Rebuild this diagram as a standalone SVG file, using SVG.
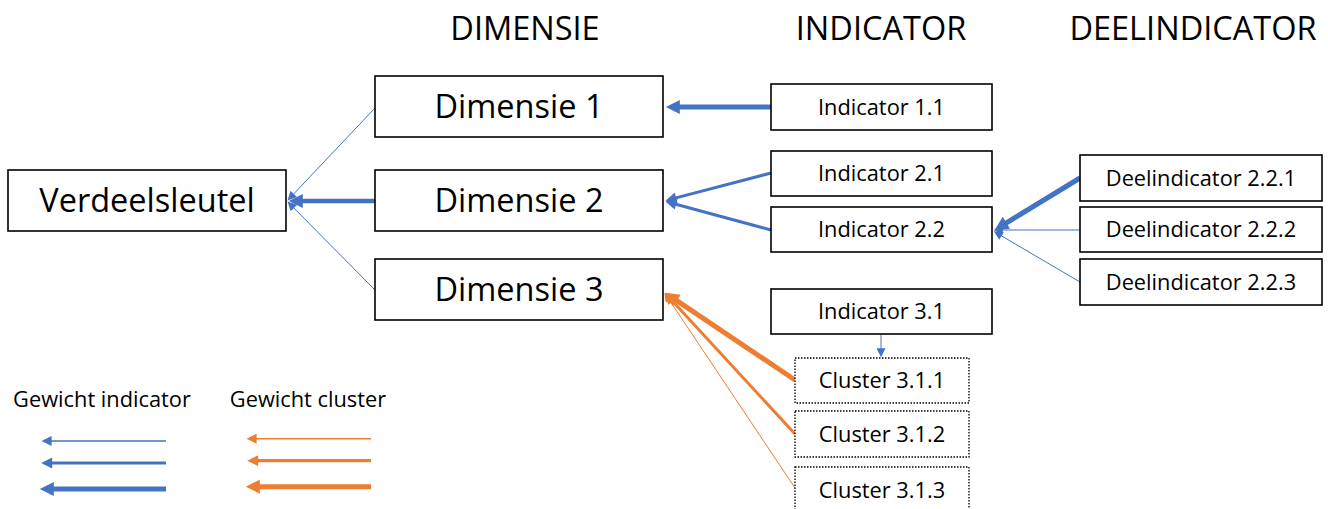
<svg xmlns="http://www.w3.org/2000/svg" width="1328" height="509" viewBox="0 0 1328 509">
<style>
  .box{fill:#fff;stroke:#000;stroke-width:1.6}
  .dot{fill:#fff;stroke:#000;stroke-width:1.3;stroke-dasharray:1.5 1.5}
  .t{font-family:"Open Sans","Liberation Sans",sans-serif;fill:#000;text-anchor:middle}
  .big{font-size:32.5px}
  .sm{font-size:21.8px}
  .hd{font-size:32.5px}
  .b{stroke:#4472C4;fill:none}
  .o{stroke:#ED7D31;fill:none}
</style>
<defs>
  <marker id="bL" viewBox="0 0 10 10" refX="2" refY="5" markerUnits="userSpaceOnUse" markerWidth="16" markerHeight="14" orient="auto"><path d="M0,0 L10,5 L0,10 z" fill="#4472C4"/></marker>
  <marker id="bM" viewBox="0 0 10 10" refX="2" refY="5" markerUnits="userSpaceOnUse" markerWidth="13" markerHeight="11" orient="auto"><path d="M0,0 L10,5 L0,10 z" fill="#4472C4"/></marker>
  <marker id="bS" viewBox="0 0 10 10" refX="2" refY="5" markerUnits="userSpaceOnUse" markerWidth="10" markerHeight="9" orient="auto"><path d="M0,0 L10,5 L0,10 z" fill="#4472C4"/></marker>
  <marker id="bLg" viewBox="0 0 10 10" refX="2" refY="5" markerUnits="userSpaceOnUse" markerWidth="12" markerHeight="10" orient="auto"><path d="M0,0 L10,5 L0,10 z" fill="#4472C4"/></marker>
  <marker id="oL" viewBox="0 0 10 10" refX="2" refY="5" markerUnits="userSpaceOnUse" markerWidth="16" markerHeight="14" orient="auto"><path d="M0,0 L10,5 L0,10 z" fill="#ED7D31"/></marker>
  <marker id="oM" viewBox="0 0 10 10" refX="2" refY="5" markerUnits="userSpaceOnUse" markerWidth="13" markerHeight="11" orient="auto"><path d="M0,0 L10,5 L0,10 z" fill="#ED7D31"/></marker>
  <marker id="oS" viewBox="0 0 10 10" refX="2" refY="5" markerUnits="userSpaceOnUse" markerWidth="10" markerHeight="9" orient="auto"><path d="M0,0 L10,5 L0,10 z" fill="#ED7D31"/></marker>
  <marker id="oLg" viewBox="0 0 10 10" refX="2" refY="5" markerUnits="userSpaceOnUse" markerWidth="12" markerHeight="10" orient="auto"><path d="M0,0 L10,5 L0,10 z" fill="#ED7D31"/></marker>
</defs>

<g id="headers">
  <text class="t hd" x="525" y="40">DIMENSIE</text>
  <text class="t hd" x="881" y="40">INDICATOR</text>
  <text class="t hd" x="1193" y="40">DEELINDICATOR</text>
</g>

<g id="connectors">
  <line class="b" x1="375" y1="108" x2="292.5" y2="195.2" stroke-width="1" marker-end="url(#bS)"/>
  <line class="b" x1="375" y1="290" x2="292.6" y2="206.7" stroke-width="1" marker-end="url(#bS)"/>
  <line class="b" x1="375" y1="201" x2="300" y2="201" stroke-width="4.5" marker-end="url(#bL)"/>
  <line class="b" x1="771" y1="107" x2="677" y2="107" stroke-width="5" marker-end="url(#bL)"/>
  <line class="b" x1="771" y1="173" x2="674" y2="198.4" stroke-width="3" marker-end="url(#bM)"/>
  <line class="b" x1="771" y1="230" x2="674" y2="203.7" stroke-width="3" marker-end="url(#bM)"/>
  <line class="b" x1="1080" y1="178" x2="1004" y2="224.3" stroke-width="5" marker-end="url(#bL)"/>
  <line class="b" x1="1080" y1="230" x2="1001" y2="230" stroke-width="1" marker-end="url(#bS)"/>
  <line class="b" x1="1080" y1="282" x2="1000" y2="235" stroke-width="1" marker-end="url(#bS)"/>
  <line class="b" x1="881" y1="334" x2="881" y2="350" stroke-width="1" marker-end="url(#bS)"/>
  <line class="o" x1="795" y1="380" x2="674.6" y2="299.1" stroke-width="5" marker-end="url(#oL)"/>
  <line class="o" x1="795" y1="434" x2="671" y2="299.6" stroke-width="3" marker-end="url(#oM)"/>
  <line class="o" x1="795" y1="488" x2="668.4" y2="298.7" stroke-width="1" marker-end="url(#oS)"/>
</g>

<g id="verdeelsleutel"><rect class="box" x="8" y="170" width="278" height="61"/><text class="t big" x="147" y="212">Verdeelsleutel</text></g>
<g id="dimensie1"><rect class="box" x="375" y="76" width="288" height="61"/><text class="t big" x="519" y="118">Dimensie 1</text></g>
<g id="dimensie2"><rect class="box" x="375" y="170" width="288" height="61"/><text class="t big" x="519" y="212">Dimensie 2</text></g>
<g id="dimensie3"><rect class="box" x="375" y="259" width="288" height="61"/><text class="t big" x="519" y="301">Dimensie 3</text></g>

<g id="indicator11"><rect class="box" x="771" y="84" width="221" height="46"/><text class="t sm" x="881.5" y="114.5">Indicator 1.1</text></g>
<g id="indicator21"><rect class="box" x="771" y="151" width="221" height="45"/><text class="t sm" x="881.5" y="181">Indicator 2.1</text></g>
<g id="indicator22"><rect class="box" x="771" y="207" width="221" height="45"/><text class="t sm" x="881.5" y="237">Indicator 2.2</text></g>
<g id="indicator31"><rect class="box" x="771" y="289" width="221" height="45"/><text class="t sm" x="881.5" y="319">Indicator 3.1</text></g>

<g id="deel221"><rect class="box" x="1080" y="155" width="242" height="46"/><text class="t sm" x="1201" y="185.5">Deelindicator 2.2.1</text></g>
<g id="deel222"><rect class="box" x="1080" y="207" width="242" height="45"/><text class="t sm" x="1201" y="237">Deelindicator 2.2.2</text></g>
<g id="deel223"><rect class="box" x="1080" y="259" width="242" height="46"/><text class="t sm" x="1201" y="289.5">Deelindicator 2.2.3</text></g>

<g id="cluster311"><rect class="dot" x="795" y="358" width="174" height="45"/><text class="t sm" x="882" y="388">Cluster 3.1.1</text></g>
<g id="cluster312"><rect class="dot" x="795" y="411" width="174" height="46"/><text class="t sm" x="882" y="441.5">Cluster 3.1.2</text></g>
<g id="cluster313"><rect class="dot" x="795" y="467" width="174" height="50"/><text class="t sm" x="882" y="497.5">Cluster 3.1.3</text></g>

<g id="legend">
  <text class="t sm" x="102" y="407">Gewicht indicator</text>
  <text class="t sm" x="308" y="407">Gewicht cluster</text>
  <line class="b" x1="166" y1="441" x2="49.6" y2="441" stroke-width="1.5" marker-end="url(#bLg)"/>
  <line class="b" x1="166" y1="463" x2="50" y2="463" stroke-width="3.2" marker-end="url(#bM)"/>
  <line class="b" x1="166" y1="489" x2="51" y2="489" stroke-width="5" marker-end="url(#bL)"/>
  <line class="o" x1="371" y1="438.7" x2="254.6" y2="438.7" stroke-width="1.5" marker-end="url(#oLg)"/>
  <line class="o" x1="371" y1="460.7" x2="256" y2="460.7" stroke-width="3.2" marker-end="url(#oM)"/>
  <line class="o" x1="371" y1="486.7" x2="257" y2="486.7" stroke-width="5" marker-end="url(#oL)"/>
</g>
</svg>
